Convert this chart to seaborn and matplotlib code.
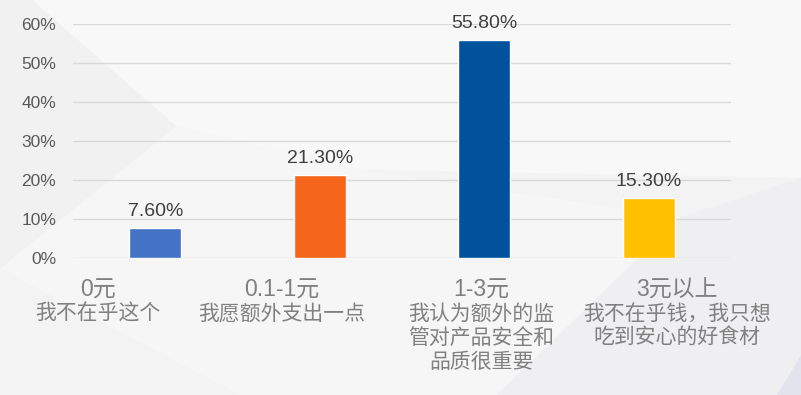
import pandas as pd
import seaborn as sns
import matplotlib.pyplot as plt
from matplotlib import font_manager
from matplotlib.patches import Polygon

# ==============================
# data
# ==============================
price = ["0元", "0.1-1元", "1-3元", "3元以上"]
reason = ["我不在乎这个",
          "我愿额外支出一点",
          "我认为额外的监\n管对产品安全和\n品质很重要",
          "我不在乎钱，我只想\n吃到安心的好食材"]
share = [7.6, 21.3, 55.8, 15.3]
bar_colors = ["#4472C4", "#F5661A", "#00529C", "#FFC000"]
label_x = [-0.35, 0.77, 1.98, 3.17]   # text boxes sit off-centre in the original

df = pd.DataFrame({"price": price, "share": share})

sns.set_theme(style="white")
names = {f.name for f in font_manager.fontManager.ttflist}
latin = "Liberation Sans Narrow" if "Liberation Sans Narrow" in names else "Liberation Sans"
plt.rcParams["font.family"] = [latin, "Noto Sans CJK SC", "DejaVu Sans"]

fig = plt.figure(figsize=(8.01, 3.95), dpi=100)
fig.patch.set_facecolor("#f3f3f4")

# faint background shapes
bg = [
    ([(0.04, 1), (0.22, 0.68), (0.45, 0.57), (1, 0.55), (1, 1)], "#f8f8f9"),
    ([(0, 1), (0.04, 1), (0.22, 0.68), (0, 0.32)], "#f1f1f2"),
    ([(0.22, 0.68), (0.45, 0.57), (0.85, 0.45), (0.62, 0), (0.3, 0), (0, 0.32)], "#f6f6f7"),
    ([(0.85, 0.45), (1, 0.55), (1, 0), (0.62, 0)], "#efeff1"),
    ([(0.97, 0), (1, 0.1), (1, 0)], "#e2e3ec"),
]
for pts, c in bg:
    fig.patches.append(Polygon(pts, closed=True, transform=fig.transFigure,
                               facecolor=c, edgecolor="none", zorder=-10))

ax = fig.add_axes([0.0911, 0.3468, 0.8215, 0.5924])
ax.set_facecolor("none")

sns.barplot(data=df, x="price", y="share", hue="price", palette=bar_colors,
            width=0.316, legend=False, ax=ax, saturation=1)

ax.set_xlim(-0.5, 3.5)
ax.set_ylim(0, 60)
ax.set_yticks(range(0, 61, 10))
ax.set_yticklabels([f"{v}%" for v in range(0, 61, 10)], fontsize=12.5, color="#595959")
ax.yaxis.grid(True, color="#d9d9d9", linewidth=1)
ax.set_axisbelow(True)
ax.tick_params(axis="y", length=0, pad=12)
ax.tick_params(axis="x", length=0)
ax.set_xticklabels([])
ax.set_xlabel("")
ax.set_ylabel("")
sns.despine(ax=ax, left=True, bottom=True)

for cont in ax.containers:
    ax.bar_label(cont, fmt="%.2f%%", padding=6, fontsize=14, color="#404040")

# two-part category labels
for x, p, r in zip(label_x, price, reason):
    ax.text(x, -0.137, p, transform=ax.get_xaxis_transform(), ha="center",
            va="center", fontsize=16.5, color="#7f7f7f")
    ax.text(x, -0.19, r, transform=ax.get_xaxis_transform(), ha="center",
            va="top", fontsize=15, color="#808080", linespacing=1.12,
            family=["Noto Sans CJK SC", "DejaVu Sans"], fontweight="light")

plt.savefig("out.png", dpi=100, facecolor=fig.get_facecolor())
